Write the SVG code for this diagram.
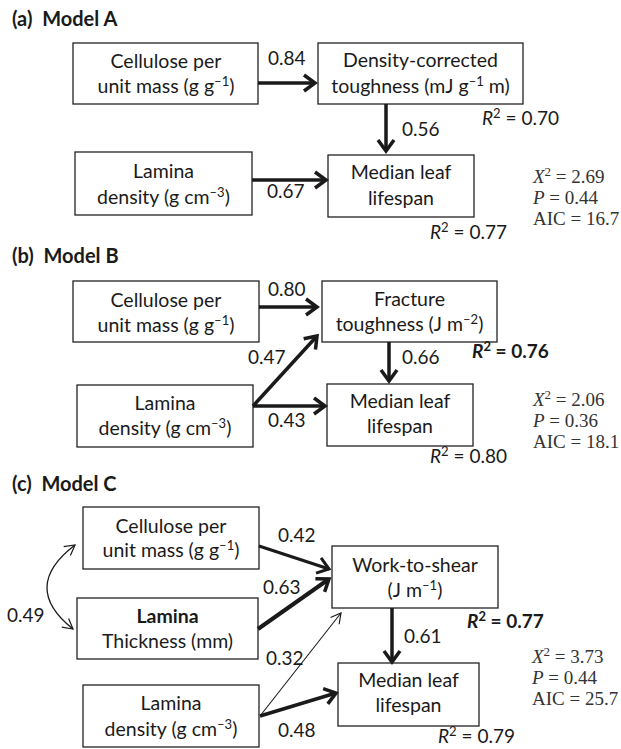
<svg xmlns="http://www.w3.org/2000/svg" width="621" height="749" viewBox="0 0 621 749">
<style>
text{font-family:Lato,"Open Sans","Liberation Sans",sans-serif;fill:#1a1a1a}
.t{font-size:19.5px;text-anchor:middle}
.l{font-size:19px}
.h{font-size:20px;font-weight:bold}
.sup{font-size:13px}
.st{font-family:"Liberation Serif","Times New Roman",serif;font-size:19px;fill:#333}
.b{font-weight:bold}
.i{font-style:italic}
rect{fill:#fff;stroke:#222;stroke-width:1.3}
.c{fill:none;stroke:#1a1a1a}
.w4{stroke-width:4;marker-end:url(#ah)}
.w35{stroke-width:3.5;marker-end:url(#ah)}
.w3{stroke-width:3;marker-end:url(#am)}
.w1{stroke-width:1.1;marker-end:url(#at)}
</style>
<defs>
<marker id="ah" markerUnits="userSpaceOnUse" markerWidth="18" markerHeight="22" viewBox="0 0 18 22" refX="13" refY="11" orient="auto"><path d="M2,3 L13,11 L2,19" fill="none" stroke="#1a1a1a" stroke-width="3.5"/></marker>
<marker id="am" markerUnits="userSpaceOnUse" markerWidth="18" markerHeight="22" viewBox="0 0 18 22" refX="13" refY="11" orient="auto"><path d="M2,3 L13,11 L2,19" fill="none" stroke="#1a1a1a" stroke-width="3"/></marker>
<marker id="at" markerUnits="userSpaceOnUse" markerWidth="14" markerHeight="14" viewBox="0 0 14 14" refX="11" refY="7" orient="auto-start-reverse"><path d="M1,1.5 L11,7 L1,12.5" fill="none" stroke="#1a1a1a" stroke-width="1.2"/></marker>
</defs>

<!-- Panel titles -->
<text class="h" x="12" y="26">(a)&#160; Model A</text>
<text class="h" x="12" y="263">(b)&#160; Model B</text>
<text class="h" x="12" y="491">(c)&#160; Model C</text>

<!-- Panel A -->
<g id="a-cellulose"><rect x="73" y="43" width="185" height="61"/>
<text class="t" x="166" y="68">Cellulose per</text>
<text class="t" x="166" y="93">unit mass (g g<tspan class="sup" dy="-7">–1</tspan><tspan dy="7">)</tspan></text></g>
<g id="a-toughness"><rect x="318" y="43" width="205" height="61"/>
<text class="t" x="420.5" y="67">Density-corrected</text>
<text class="t" x="420.5" y="93">toughness (mJ g<tspan class="sup" dy="-7">–1</tspan><tspan dy="7"> m)</tspan></text></g>
<g id="a-lifespan"><rect x="328" y="155" width="146" height="62"/>
<text class="t" x="401" y="179">Median leaf</text>
<text class="t" x="401" y="205">lifespan</text></g>
<g id="a-density"><rect x="75" y="152" width="177" height="63"/>
<text class="t" x="163.5" y="178">Lamina</text>
<text class="t" x="163.5" y="204">density (g cm<tspan class="sup" dy="-7">–3</tspan><tspan dy="7">)</tspan></text></g>
<text class="l" x="482" y="125"><tspan class="i">R</tspan><tspan class="sup" dy="-7">2</tspan><tspan dy="7"> = 0.70</tspan></text>
<text class="l" x="430" y="239"><tspan class="i">R</tspan><tspan class="sup" dy="-7">2</tspan><tspan dy="7"> = 0.77</tspan></text>
<text class="st" x="533" y="183"><tspan class="i">X</tspan><tspan font-size="13" dy="-7">2</tspan><tspan dy="7"> = 2.69</tspan></text>
<text class="st" x="533" y="204"><tspan class="i">P</tspan> = 0.44</text>
<text class="st" x="533" y="225">AIC = 16.7</text>

<!-- Panel B -->
<g id="b-cellulose"><rect x="73" y="281" width="186" height="61"/>
<text class="t" x="166" y="307">Cellulose per</text>
<text class="t" x="166" y="332">unit mass (g g<tspan class="sup" dy="-7">–1</tspan><tspan dy="7">)</tspan></text></g>
<g id="b-fracture"><rect x="322" y="281" width="175" height="61"/>
<text class="t" x="409.5" y="306">Fracture</text>
<text class="t" x="409.5" y="331">toughness (J m<tspan class="sup" dy="-7">–2</tspan><tspan dy="7">)</tspan></text></g>
<g id="b-lifespan"><rect x="327" y="384" width="146" height="62"/>
<text class="t" x="400" y="408">Median leaf</text>
<text class="t" x="400" y="433">lifespan</text></g>
<g id="b-density"><rect x="77" y="385" width="176" height="62"/>
<text class="t" x="165" y="410">Lamina</text>
<text class="t" x="165" y="435">density (g cm<tspan class="sup" dy="-7">–3</tspan><tspan dy="7">)</tspan></text></g>
<text class="l b" x="472" y="358"><tspan class="i">R</tspan><tspan class="sup" dy="-7">2</tspan><tspan dy="7"> = 0.76</tspan></text>
<text class="l" x="430" y="463"><tspan class="i">R</tspan><tspan class="sup" dy="-7">2</tspan><tspan dy="7"> = 0.80</tspan></text>
<text class="st" x="533" y="406"><tspan class="i">X</tspan><tspan font-size="13" dy="-7">2</tspan><tspan dy="7"> = 2.06</tspan></text>
<text class="st" x="533" y="427"><tspan class="i">P</tspan> = 0.36</text>
<text class="st" x="533" y="448">AIC = 18.1</text>

<!-- Panel C -->
<g id="c-cellulose"><rect x="83" y="507" width="176" height="62"/>
<text class="t" x="171" y="533">Cellulose per</text>
<text class="t" x="171" y="557">unit mass (g g<tspan class="sup" dy="-7">–1</tspan><tspan dy="7">)</tspan></text></g>
<g id="c-thickness"><rect x="77" y="598" width="181" height="61"/>
<text class="t b" x="167.5" y="623">Lamina</text>
<text class="t" x="167.5" y="648">Thickness (mm)</text></g>
<g id="c-density"><rect x="83" y="685" width="176" height="62"/>
<text class="t" x="171" y="710">Lamina</text>
<text class="t" x="171" y="736">density (g cm<tspan class="sup" dy="-7">–3</tspan><tspan dy="7">)</tspan></text></g>
<g id="c-work"><rect x="332" y="546" width="166" height="62"/>
<text class="t" x="415" y="572">Work-to-shear</text>
<text class="t" x="415" y="597">(J m<tspan class="sup" dy="-7">–1</tspan><tspan dy="7">)</tspan></text></g>
<g id="c-lifespan"><rect x="338" y="663" width="141" height="63"/>
<text class="t" x="408.5" y="687">Median leaf</text>
<text class="t" x="408.5" y="712">lifespan</text></g>
<text class="l b" x="467" y="628"><tspan class="i">R</tspan><tspan class="sup" dy="-7">2</tspan><tspan dy="7"> = 0.77</tspan></text>
<text class="l" x="438" y="743"><tspan class="i">R</tspan><tspan class="sup" dy="-7">2</tspan><tspan dy="7"> = 0.79</tspan></text>
<text class="st" x="532" y="663"><tspan class="i">X</tspan><tspan font-size="13" dy="-7">2</tspan><tspan dy="7"> = 3.73</tspan></text>
<text class="st" x="532" y="684"><tspan class="i">P</tspan> = 0.44</text>
<text class="st" x="532" y="705">AIC = 25.7</text>

<!-- Connectors -->
<g id="connectors">
<line class="c w35" x1="258" y1="83" x2="315" y2="83"/>
<line class="c w35" x1="386" y1="104" x2="386" y2="151"/>
<line class="c w35" x1="252" y1="180" x2="326" y2="180"/>
<line class="c w35" x1="259" y1="307" x2="317" y2="307"/>
<line class="c w35" x1="253" y1="406" x2="317" y2="336"/>
<line class="c w35" x1="253" y1="406" x2="325" y2="406"/>
<line class="c w35" x1="389" y1="342" x2="389" y2="381"/>
<line class="c w3" x1="259" y1="546" x2="329" y2="569"/>
<line class="c w4" x1="258" y1="629" x2="329" y2="579"/>
<line class="c w1" x1="260" y1="716" x2="341" y2="613"/>
<line class="c w35" x1="260" y1="716" x2="336" y2="693"/>
<line class="c w35" x1="392" y1="608" x2="392" y2="662"/>
<path class="c" d="M75,545 Q20,587 73,629" stroke-width="1.3" marker-start="url(#at)" marker-end="url(#at)"/>
</g>
<g id="edge-labels">
<text class="l" x="268" y="65">0.84</text>
<text class="l" x="402" y="136">0.56</text>
<text class="l" x="267" y="198">0.67</text>
<text class="l" x="268" y="296">0.80</text>
<text class="l" x="248" y="364">0.47</text>
<text class="l" x="268" y="427">0.43</text>
<text class="l" x="402" y="364">0.66</text>
<text class="l" x="278" y="542">0.42</text>
<text class="l" x="263" y="594">0.63</text>
<text class="l" x="266" y="665">0.32</text>
<text class="l" x="278" y="737">0.48</text>
<text class="l" x="404" y="643">0.61</text>
<text class="l" x="7" y="622">0.49</text>
</g>
</svg>
